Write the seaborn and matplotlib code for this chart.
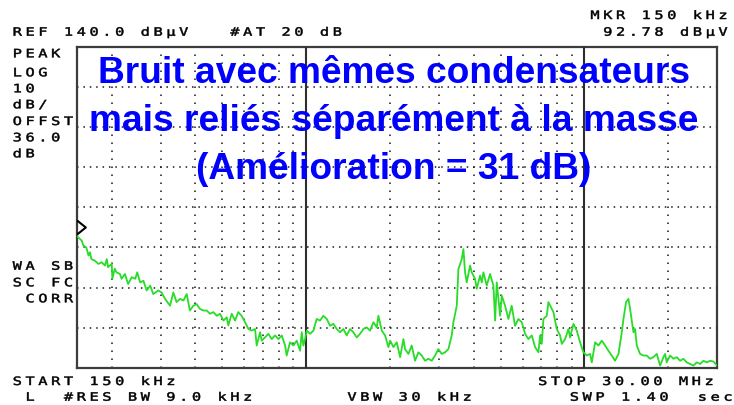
import numpy as np
import pandas as pd
import matplotlib
matplotlib.use("Agg")
import matplotlib.pyplot as plt
import matplotlib.patheffects as pe
from matplotlib.path import Path
from matplotlib.transforms import offset_copy
import seaborn as sns

# ---------------------------------------------------------------------------
# Trace: conducted noise, 150 kHz - 30 MHz (frequency in MHz, level in dBµV)
# ---------------------------------------------------------------------------
FREQ_MHZ = [
    0.150, 0.156, 0.158, 0.162, 0.165, 0.167, 0.169, 0.174,
    0.179, 0.184, 0.189, 0.192, 0.194, 0.200, 0.201, 0.205,
    0.208, 0.214, 0.217, 0.223, 0.229, 0.236, 0.243, 0.247,
    0.253, 0.260, 0.267, 0.275, 0.282, 0.294, 0.302, 0.311,
    0.324, 0.333, 0.342, 0.352, 0.362, 0.372, 0.382, 0.393,
    0.404, 0.415, 0.427, 0.439, 0.451, 0.464, 0.477, 0.490,
    0.504, 0.518, 0.525, 0.540, 0.555, 0.570, 0.586, 0.603,
    0.620, 0.637, 0.655, 0.664, 0.683, 0.692, 0.711, 0.731,
    0.752, 0.773, 0.795, 0.817, 0.840, 0.851, 0.875, 0.900,
    0.925, 0.951,
    0.964, 0.977, 0.991, 1.005, 1.033, 1.062, 1.091, 1.122,
    1.153, 1.186, 1.219, 1.253, 1.288, 1.324, 1.361, 1.399,
    1.438, 1.478, 1.520, 1.562, 1.606, 1.651, 1.697, 1.745,
    1.794, 1.819, 1.870, 1.922, 1.976, 2.004, 2.060, 2.117,
    2.177, 2.237, 2.268, 2.331, 2.396, 2.463, 2.532, 2.603,
    2.676, 2.751, 2.828, 2.907, 2.988, 3.072, 3.158, 3.246,
    3.337, 3.384, 3.479, 3.527, 3.626, 3.676, 3.727, 3.779,
    3.885, 3.939, 4.049, 4.105, 4.220, 4.278, 4.338, 4.459,
    4.584, 4.713, 4.779, 4.845, 4.981, 5.050, 5.189, 5.334,
    5.483, 5.637, 5.795, 5.958, 6.125, 6.296, 6.473, 6.654,
    6.840, 6.936,
    7.032, 7.130, 7.330, 7.432, 7.640, 7.745, 7.962, 8.184,
    8.299, 8.530, 8.770, 8.892, 9.141, 9.395, 9.658, 9.928,
    10.21, 10.49, 10.64, 10.94, 11.24, 11.56, 11.88, 12.21,
    12.55, 12.90, 13.27, 13.64, 13.83, 14.13, 14.41, 14.61,
    15.02, 15.23, 15.44, 15.87, 16.32, 16.77, 17.24, 17.72,
    18.22, 18.73, 19.25, 19.52, 19.79, 20.34, 20.92, 21.50,
    22.10, 22.72, 23.36, 24.01, 24.69, 25.38, 26.09, 26.82,
    27.57, 28.34, 29.13, 30.00,
]

LEVEL_DBUV = [
    92.8, 91.7, 90.5, 90.0, 88.0, 88.8, 87.1, 86.7,
    85.9, 86.3, 85.5, 87.1, 85.1, 85.9, 82.2, 84.7,
    83.8, 83.4, 82.2, 83.4, 80.9, 82.6, 82.2, 83.8,
    81.3, 81.7, 79.3, 80.5, 78.4, 79.3, 78.8, 77.2,
    75.5, 78.8, 76.4, 77.2, 76.8, 78.4, 74.3, 75.5,
    75.9, 74.7, 74.3, 74.3, 73.5, 73.9, 73.0, 73.5,
    71.8, 72.6, 70.6, 73.5, 71.8, 73.9, 73.0, 71.4,
    69.7, 69.3, 69.7, 65.6, 68.9, 66.8, 67.6, 68.5,
    67.2, 68.1, 67.2, 68.1, 65.6, 63.1, 66.4, 65.6,
    66.8, 64.3,
    68.9, 65.6, 67.2, 69.3, 68.5, 69.3, 72.2, 71.8,
    73.0, 72.2, 70.5, 71.0, 69.7, 68.9, 69.7, 68.1,
    69.7, 68.9, 67.6, 68.5, 69.7, 70.1, 69.3, 71.4,
    70.1, 73.0, 69.3, 68.1, 65.2, 66.8, 65.2, 66.4,
    62.7, 67.2, 64.7, 63.5, 65.6, 61.8, 63.9, 63.1,
    61.8, 62.3, 61.8, 63.1, 64.7, 63.5, 63.9, 64.7,
    68.1, 71.4, 75.5, 84.6, 87.1, 89.6, 83.8, 81.3,
    85.5, 83.8, 82.2, 79.7, 83.0, 81.3, 83.8, 80.5,
    83.4, 80.5, 71.8, 81.3, 73.0, 78.0, 75.5, 72.2,
    75.5, 70.5, 72.2, 71.4, 68.5, 67.2, 68.1, 65.2,
    63.9, 68.1,
    66.0, 72.2, 73.0, 76.4, 74.7, 73.9, 69.7, 68.1,
    66.0, 67.2, 69.7, 67.6, 71.0, 69.3, 66.4, 63.9,
    63.1, 63.5, 61.4, 66.4, 65.6, 66.8, 65.6, 64.3,
    63.1, 61.8, 63.5, 68.9, 72.2, 76.4, 77.2, 74.7,
    68.9, 69.7, 65.6, 63.5, 63.1, 63.1, 62.3, 62.7,
    63.5, 60.6, 62.7, 63.5, 61.4, 63.1, 62.3, 62.7,
    61.8, 62.3, 61.4, 61.0, 60.6, 61.4, 61.0, 61.8,
    61.4, 61.8, 61.6, 60.6,
]

# Analyzer settings
REF_LEVEL = 140.0
DB_PER_DIV = 10.0
N_DIV = 8
F_START, F_STOP = 0.15, 30.0
MARKER_FREQ, MARKER_LEVEL = 0.15, 92.78

# Graticule
DECADE_LINES = [1.0, 10.0]
MINOR_FREQ_LINES = [0.2, 0.3, 0.4, 0.5, 0.6, 0.7, 0.8, 0.9,
                    2, 3, 4, 5, 6, 7, 8, 9, 20]
LEVEL_LINES = [130, 120, 110, 100, 90, 80, 70]

# Annotation texts
HEADER_LEFT = "REF 140.0 dBµV   #AT 20 dB"
MARKER_LINES = ["MKR 150 kHz", " 92.78 dBµV"]
SIDE_TOP = ["PEAK", "LOG", "10", "dB/", "OFFST", "36.0", "dB"]
SIDE_BOTTOM = ["WA SB", "SC FC", " CORR"]
FOOTER = ["START 150 kHz", "STOP 30.00 MHz",
          " L  #RES BW 9.0 kHz", "VBW 30 kHz", "SWP 1.40  sec"]
TITLE_LINES = ["Bruit avec mêmes condensateurs",
               "mais reliés séparément à la masse",
               "(Amélioration = 31 dB)"]


class TrackedMono(pe.AbstractPathEffect):
    """Draw monospaced text on a wider character grid, like a CRT font."""

    def __init__(self, pitch_px, stretch, weight=0.35, advance_em=0.602):
        super().__init__()
        self.pitch_px = pitch_px
        self.stretch = stretch
        self.weight = weight
        self.advance = advance_em * 100.0  # text paths use 100 units / em

    def draw_path(self, renderer, gc, tpath, affine, rgbFace=None):
        codes = tpath.codes
        gc0 = renderer.new_gc()
        gc0.copy_properties(gc)
        if rgbFace is not None:
            gc0.set_foreground(rgbFace)
        gc0.set_linewidth(self.weight)
        if codes is None or len(codes) == 0:
            renderer.draw_path(gc0, tpath, affine, rgbFace)
            gc0.restore()
            return
        scale = affine.get_matrix()[0, 0]
        pitch = self.pitch_px / scale
        verts = np.array(tpath.vertices, dtype=float)
        starts = list(np.flatnonzero(codes == Path.MOVETO)) + [len(codes)]
        for a, b in zip(starts[:-1], starts[1:]):
            real = codes[a:b] != Path.CLOSEPOLY
            if not real.any():
                continue
            cx = verts[a:b][real, 0].mean()
            cell = np.floor(cx / self.advance)
            centre = (cell + 0.5) * self.advance
            verts[a:b, 0] = (verts[a:b, 0] - centre) * self.stretch \
                + (cell + 0.5) * pitch
        renderer.draw_path(gc0, Path(verts, codes), affine, rgbFace)
        gc0.restore()


W, H = 734, 406
sns.set_style("white")
plt.rcParams["lines.scale_dashes"] = False
plt.rcParams["font.family"] = ["DejaVu Sans Mono", "DejaVu Sans"]

fig = plt.figure(figsize=(W / 100, H / 100), dpi=100)
fig.patch.set_facecolor("white")
plot_left, plot_right, plot_top, plot_bottom = 77, 717, 47.5, 369
ax = fig.add_axes([plot_left / W, 1 - plot_bottom / H,
                   (plot_right - plot_left) / W,
                   (plot_bottom - plot_top) / H])

df = pd.DataFrame({"freq": FREQ_MHZ, "level": LEVEL_DBUV})
sns.lineplot(data=df, x="freq", y="level", ax=ax, color="#28dc28",
             linewidth=1.3, estimator=None, sort=False, legend=False,
             zorder=4)

ax.set_xscale("log")
ax.set_xlim(F_START, F_STOP)
ax.set_ylim(REF_LEVEL - N_DIV * DB_PER_DIV, REF_LEVEL)
ax.set_xlabel("")
ax.set_ylabel("")
ax.tick_params(which="both", length=0, labelbottom=False, labelleft=False)
ax.xaxis.set_minor_locator(matplotlib.ticker.NullLocator())
ax.set_xticks([])
ax.set_yticks([])
ax.set_facecolor("white")
for sp in ax.spines.values():
    sp.set_color("#3c3c3c")
    sp.set_linewidth(1.6)

# Dotted graticule
for lvl in LEVEL_LINES:
    ax.axhline(lvl, color="#1a1a1a", linewidth=1.1,
               linestyle=(0, (1.1, 3.5)), zorder=2)
for f in MINOR_FREQ_LINES:
    ax.axvline(f, color="#1a1a1a", linewidth=1.1,
               linestyle=(0, (1.1, 4.66)), zorder=2)
for f in DECADE_LINES:
    ax.axvline(f, color="#2e2e2e", linewidth=1.5, zorder=3)

# Marker diamond sitting on the trace at the start frequency
diamond = Path([(-1, 0), (0, 0.8), (1, 0), (0, -0.8), (-1, 0)],
               [Path.MOVETO, Path.LINETO, Path.LINETO, Path.LINETO,
                Path.CLOSEPOLY])
ax.plot([MARKER_FREQ], [MARKER_LEVEL], linestyle="none", marker=diamond,
        markersize=12, markerfacecolor="none", markeredgecolor="black",
        markeredgewidth=1.5, clip_on=True, zorder=6,
        transform=offset_copy(ax.transData, fig=fig, x=0, y=7, units="points"))

# Instrument annotation in CRT style
crt = dict(fontfamily="DejaVu Sans Mono", fontsize=8.3, color="black",
           ha="left", va="baseline",
           path_effects=[TrackedMono(pitch_px=12.8, stretch=1.33)])


def put(text, x_px, y_px):
    fig.text(x_px / W, 1 - y_px / H, text, **crt)


put(HEADER_LEFT, 10.9, 36.7)
put(MARKER_LINES[0], 588.6, 20.0)
put(MARKER_LINES[1], 588.6, 36.7)
for txt, y in zip(SIDE_TOP, [58.3, 77.3, 93.3, 109.3, 126.0, 142.3, 158.3]):
    put(txt, 10.9, y)
for txt, y in zip(SIDE_BOTTOM, [270.7, 287.3, 303.3]):
    put(txt, 10.9, y)
put(FOOTER[0], 10.9, 386.0)
put(FOOTER[1], 536.3, 386.0)
put(FOOTER[2], 10.9, 401.7)
put(FOOTER[3], 345.6, 401.7)
put(FOOTER[4], 568.0, 401.7)

# Overlay caption
for txt, y in zip(TITLE_LINES, [83, 131, 179]):
    fig.text(394 / W, 1 - y / H, txt, ha="center", va="baseline",
             fontfamily=["Liberation Sans", "DejaVu Sans"],
             fontweight="bold", fontsize=26.7, color="#0000ff", zorder=10)

fig.savefig("out.png", dpi=100, facecolor="white")
